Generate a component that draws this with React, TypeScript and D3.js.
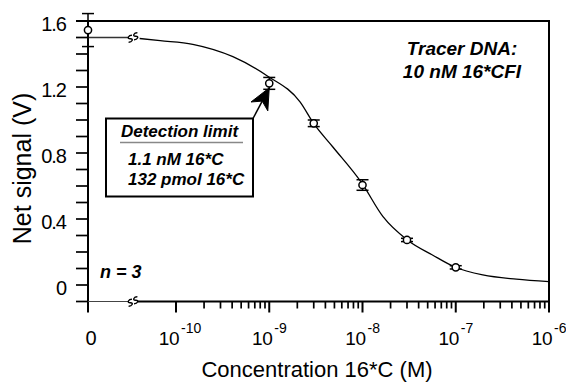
import React from "react";
import * as d3 from "d3";

// ---- data ----
const pointConc = [0, 1e-9, 3e-9, 1e-8, 3e-8, 1e-7];
const pointSignal = [1.545, 1.222, 0.98, 0.606, 0.273, 0.107];
const pointErr = [0.1, 0.036, 0.02, 0.032, 0.01, 0.01];

// fitted curve (log10 concentration, signal)
const curveLogConc = [-10.39, -10.17, -9.82, -9.39, -9.02, -8.67, -8.52, -8.32, -8.01, -7.78, -7.52, -7.25, -7.01, -6.71, -6.35, -6.0];
const curveSignal = [1.494, 1.481, 1.459, 1.384, 1.267, 1.11, 0.976, 0.838, 0.62, 0.414, 0.273, 0.182, 0.109, 0.061, 0.035, 0.02];
const plateauSignal = 1.5;

const yTickValues = [0, 0.4, 0.8, 1.2, 1.6];
const yTickLabels = ["0", "0.4", "0.8", "1.2", "1.6"];
const yMinorTicks = d3.range(-1, 17).map((i) => i / 10);

const xMajorValues = [1e-10, 1e-9, 1e-8, 1e-7, 1e-6];
const xMajorExponents = ["-10", "-9", "-8", "-7", "-6"];
const xDecades = [-10, -9, -8, -7];
const xMinorMultipliers = [2, 3, 4, 5, 6, 7, 8, 9];

const xTitle = "Concentration 16*C (M)";
const yTitle = "Net signal (V)";
const tracerLines = ["Tracer DNA:", "10 nM 16*CFI"];
const boxTitle = "Detection limit";
const boxLines = ["1.1 nM 16*C", "132 pmol 16*C"];
const nLabel = "n = 3";

// ---- layout ----
const W = 566;
const H = 382;
const zeroX = 88;
const rightX = 549;
const topY = 21;
const bottomY = 301.5;
const breakX = 133;
const FONT = "'Liberation Sans', Arial, Helvetica, sans-serif";

const logX = d3.scaleLog().domain([1e-10, 1e-6]).range([176, rightX]);
const xPos = (c: number) => (c === 0 ? zeroX : logX(c));
const y = d3.scaleLinear().domain([-0.1, 1.6]).range([bottomY, topY]);

function BreakMark({ cx, cy }: { cx: number; cy: number }) {
  const s = (dx: number) => {
    const x = cx + dx;
    return `M${x + 3},${cy - 2.5} C${x},${cy - 4} ${x - 3.5},${cy - 1.5} ${x},${cy} C${x + 3.5},${cy + 1.5} ${x},${cy + 4} ${x - 3},${cy + 2.5}`;
  };
  return (
    <g fill="none" stroke="#000" strokeWidth={1.4} transform={`rotate(-25 ${cx} ${cy})`}>
      <path d={s(-3)} />
      <path d={s(3)} />
    </g>
  );
}

export default function App() {
  const curvePts: [number, number][] = curveLogConc.map((l, i) => [
    logX(Math.pow(10, l)),
    y(curveSignal[i]),
  ]);
  const curvePath = d3.line().curve(d3.curveMonotoneX)(curvePts) || "";

  const xMinor: number[] = [];
  xDecades.forEach((d) =>
    xMinorMultipliers.forEach((m) => xMinor.push(m * Math.pow(10, d)))
  );

  // arrow from box corner to the detection-limit point
  const boxX = 106, boxY = 118.5, boxW = 147, boxH = 78;
  const tipX = xPos(pointConc[1]);
  const tipY = y(pointSignal[1]) + 4.5;
  const sx = boxX + boxW, sy = boxY;
  const len = Math.hypot(tipX - sx, tipY - sy);
  const ux = (tipX - sx) / len, uy = (tipY - sy) / len;
  const px = -uy, py = ux;
  const headL = 21, headW = 9.5, notch = 15;
  const bx = tipX - ux * headL, by = tipY - uy * headL;
  const nx = tipX - ux * notch, ny = tipY - uy * notch;
  const arrowHead = `M${tipX},${tipY} L${bx + px * headW},${by + py * headW} L${nx},${ny} L${bx - px * headW},${by - py * headW} Z`;

  return (
    <svg
      width={W}
      height={H}
      style={{ position: "absolute", left: 0, top: 0, background: "#fff" }}
      fontFamily={FONT}
    >
      <rect x={0} y={0} width={W} height={H} fill="#fff" />

      {/* frame */}
      <line x1={76} x2={rightX + 1} y1={topY} y2={topY} stroke="#000" strokeWidth={2} />
      <line x1={rightX} x2={rightX} y1={topY} y2={bottomY} stroke="#000" strokeWidth={2} />
      <line x1={zeroX} x2={zeroX} y1={topY} y2={bottomY + 11} stroke="#000" strokeWidth={2} />
      <line x1={zeroX} x2={breakX - 5} y1={bottomY} y2={bottomY} stroke="#444" strokeWidth={1.2} />
      <line x1={breakX + 5} x2={rightX + 1} y1={bottomY} y2={bottomY} stroke="#000" strokeWidth={2} />
      <BreakMark cx={breakX} cy={bottomY} />

      {/* y ticks */}
      {yMinorTicks.map((v) => (
        <line key={"yt" + v} x1={76} x2={zeroX} y1={y(v)} y2={y(v)} stroke="#000" strokeWidth={1.7} />
      ))}
      {yTickValues.map((v, i) => (
        <text
          key={"yl" + v}
          x={66}
          y={y(v) + 10}
          textAnchor="end"
          fontSize={20}
          letterSpacing={-1}
        >
          {yTickLabels[i]}
        </text>
      ))}

      {/* x ticks */}
      {xMinor.map((v) => (
        <line key={"xm" + v} x1={logX(v)} x2={logX(v)} y1={bottomY} y2={bottomY + 7} stroke="#000" strokeWidth={1.7} />
      ))}
      {xMajorValues.map((v) => (
        <line key={"xM" + v} x1={logX(v)} x2={logX(v)} y1={bottomY} y2={bottomY + 11} stroke="#000" strokeWidth={2} />
      ))}
      <text x={xPos(0) + 3} y={345} textAnchor="middle" fontSize={20}>
        0
      </text>
      {xMajorValues.map((v, i) => (
        <g key={"xl" + v}>
          <text x={logX(v) + 3} y={345} textAnchor="end" fontSize={19} letterSpacing={-0.5}>
            10
          </text>
          <text x={logX(v) + 5} y={333} textAnchor="start" fontSize={14}>
            {xMajorExponents[i]}
          </text>
        </g>
      ))}

      {/* axis titles */}
      <text x={317} y={377} textAnchor="middle" fontSize={22}>
        {xTitle}
      </text>
      <text
        transform={`translate(31,168.5) rotate(-90)`}
        textAnchor="middle"
        fontSize={25}
      >
        {yTitle}
      </text>

      {/* fitted curve */}
      <line
        x1={zeroX}
        x2={breakX - 5}
        y1={y(plateauSignal)}
        y2={y(plateauSignal)}
        stroke="#333"
        strokeWidth={1.3}
      />
      <BreakMark cx={breakX} cy={y(plateauSignal)} />
      <path d={curvePath} fill="none" stroke="#000" strokeWidth={1.3} />

      {/* data points with error bars */}
      {pointConc.map((c, i) => {
        const cx = xPos(c);
        const cy = y(pointSignal[i]);
        const y1 = y(pointSignal[i] + pointErr[i]);
        const y2 = y(pointSignal[i] - pointErr[i]);
        return (
          <g key={"p" + i} stroke="#000" strokeWidth={1.5}>
            <line x1={cx} x2={cx} y1={y1} y2={y2} />
            <line x1={cx - 6} x2={cx + 6} y1={y1} y2={y1} />
            <line x1={cx - 6} x2={cx + 6} y1={y2} y2={y2} />
            <circle cx={cx} cy={cy} r={3.6} fill="#fff" />
          </g>
        );
      })}

      {/* detection limit box */}
      <rect x={boxX} y={boxY} width={boxW} height={boxH} fill="#fff" stroke="#000" strokeWidth={2} />
      <line x1={120} x2={243} y1={142.5} y2={142.5} stroke="#888" strokeWidth={1.5} />
      <text x={boxX + boxW / 2} y={136.5} textAnchor="middle" fontSize={17} fontWeight="bold" fontStyle="italic">
        {boxTitle}
      </text>
      {boxLines.map((t, i) => (
        <text key={t} x={128} y={165 + i * 20} fontSize={17} fontWeight="bold" fontStyle="italic">
          {t}
        </text>
      ))}
      <line x1={sx} y1={sy} x2={nx} y2={ny} stroke="#000" strokeWidth={1.5} />
      <path d={arrowHead} fill="#000" stroke="#000" strokeWidth={1} />

      {/* annotations */}
      {tracerLines.map((t, i) => (
        <text key={t} x={462} y={55 + i * 23} textAnchor="middle" fontSize={19} fontWeight="bold" fontStyle="italic">
          {t}
        </text>
      ))}
      <text x={100} y={278} fontSize={18} fontWeight="bold" fontStyle="italic">
        {nLabel}
      </text>
    </svg>
  );
}
